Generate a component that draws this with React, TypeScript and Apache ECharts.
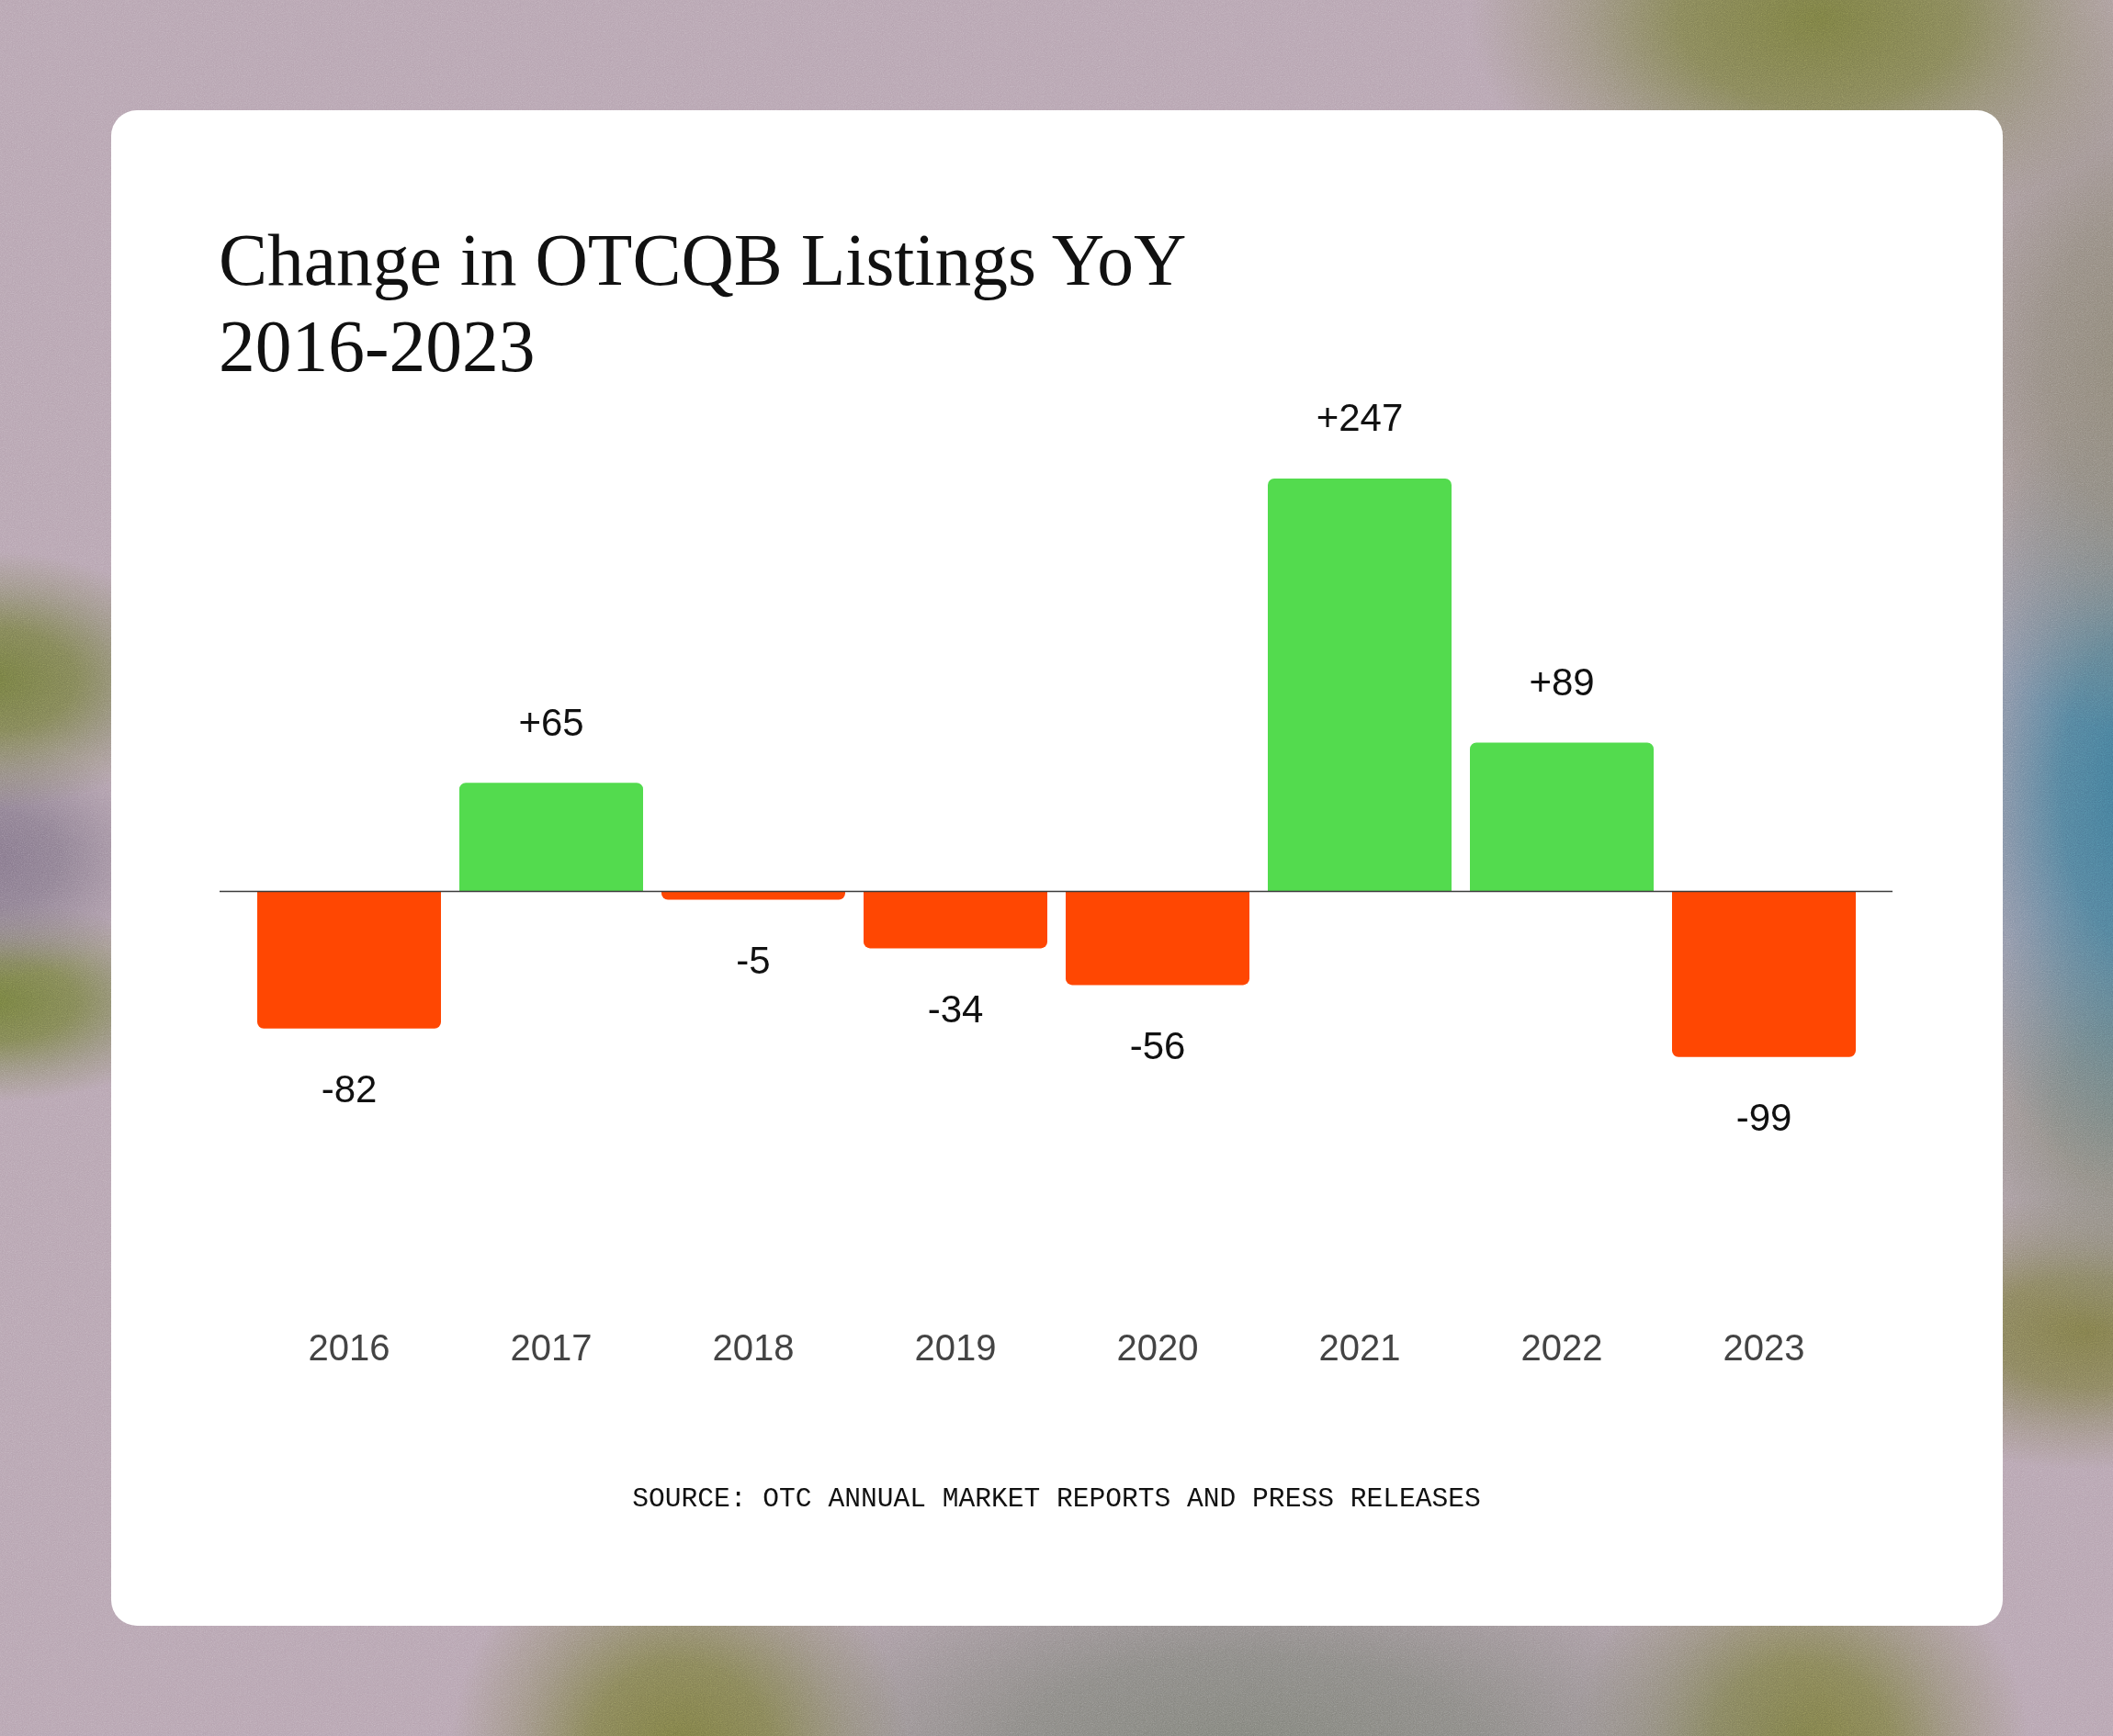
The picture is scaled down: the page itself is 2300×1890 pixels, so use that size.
import React, { useEffect, useRef } from "react";
import * as echarts from "echarts";

// ---- data ----
const years: string[] = ["2016", "2017", "2018", "2019", "2020", "2021", "2022", "2023"];
const changes: number[] = [-82, 65, -5, -34, -56, 247, 89, -99];
const titleLines: string[] = ["Change in OTCQB Listings YoY", "2016-2023"];
const sourceText = "SOURCE: OTC ANNUAL MARKET REPORTS AND PRESS RELEASES";

const GREEN = "#53DB4E";
const RED = "#FF4702";
const W = 2300;
const H = 1890;

const noise =
  "url(\"data:image/svg+xml;utf8,<svg xmlns='http://www.w3.org/2000/svg' width='256' height='256'><filter id='n'><feTurbulence type='fractalNoise' baseFrequency='0.9' numOctaves='2' stitchTiles='stitch'/><feColorMatrix type='saturate' values='0'/></filter><rect width='100%' height='100%' filter='url(%23n)'/></svg>\")";

function blob(rx: number, ry: number, x: number, y: number, rgb: string, a = 1) {
  return `radial-gradient(ellipse ${rx}px ${ry}px at ${x}px ${y}px, rgba(${rgb},${a}) 0%, rgba(${rgb},${a * 0.8}) 40%, rgba(${rgb},${a * 0.3}) 75%, rgba(${rgb},0) 100%)`;
}

const bgLayers = [
  blob(380, 240, 1980, 20, "120,123,66"),
  blob(260, 400, 2330, 400, "140,133,118"),
  blob(240, 440, 2340, 860, "58,119,150"),
  blob(230, 240, 2330, 1210, "134,134,121"),
  blob(260, 150, 2270, 1450, "126,122,74"),
  blob(230, 140, -10, 740, "114,122,64"),
  blob(190, 130, -10, 935, "132,118,138"),
  blob(230, 110, -10, 1090, "114,124,62"),
  blob(250, 250, 740, 1910, "122,122,66"),
  blob(640, 270, 1360, 1910, "127,129,121"),
  blob(250, 250, 1960, 1910, "122,122,66"),
].join(",");

export default function App() {
  const ref = useRef<HTMLDivElement>(null);

  useEffect(() => {
    if (!ref.current) return;
    const chart = echarts.init(ref.current, undefined, { renderer: "svg", width: W, height: H });
    const option: any = {
      animation: false,
      backgroundColor: "transparent",
      title: {
        text: titleLines.join("\n"),
        left: 233,
        top: 231,
        textStyle: {
          fontFamily: "Liberation Serif",
          fontSize: 79.5,
          fontWeight: "normal",
          lineHeight: 94,
          color: "#111111",
        },
      },
      grid: { left: 270, right: 270, top: 424.5, bottom: 464.5, containLabel: false },
      xAxis: {
        type: "category",
        data: years,
        position: "bottom",
        axisLine: { show: false, onZero: false },
        axisTick: { show: false },
        axisLabel: {
          margin: 21,
          fontFamily: "Liberation Sans",
          fontSize: 40,
          color: "#444444",
        },
        splitLine: { show: false },
      },
      yAxis: {
        type: "value",
        min: -250,
        max: 300,
        show: false,
      },
      series: [
        {
          type: "bar",
          barWidth: 200,
          data: changes.map((v) => ({
            value: v,
            itemStyle: {
              color: v >= 0 ? GREEN : RED,
              borderRadius: v >= 0 ? [7, 7, 0, 0] : [0, 0, 7, 7],
            },
            label: { position: v >= 0 ? "top" : "bottom" },
          })),
          label: {
            show: true,
            distance: 45,
            fontFamily: "Liberation Sans",
            fontSize: 42,
            color: "#111111",
            formatter: (p: any) => (p.value > 0 ? "+" + p.value : String(p.value)),
          },
        },
      ],
    };
    chart.setOption(option);
    const zeroY = chart.convertToPixel({ yAxisIndex: 0 }, 0) as number;
    chart.setOption({
      graphic: [
        {
          type: "line",
          z: 100,
          shape: { x1: 239, y1: zeroY, x2: 2060, y2: zeroY },
          style: { stroke: "#3c3c3c", lineWidth: 1.6 },
        },
        {
          type: "text",
          x: 1150,
          y: 1632,
          style: {
            text: sourceText,
            fontFamily: "Liberation Mono",
            fontSize: 29.6,
            fill: "#111111",
            textAlign: "center",
            textVerticalAlign: "middle",
          },
        },
      ],
    });
    return () => chart.dispose();
  }, []);

  return (
    <div
      style={{
        position: "absolute",
        left: 0,
        top: 0,
        width: W,
        height: H,
        overflow: "hidden",
        backgroundColor: "#b6a3b0",
        backgroundImage: bgLayers,
      }}
    >
      <div
        style={{
          position: "absolute",
          inset: 0,
          backgroundImage: noise,
          opacity: 0.4,
          mixBlendMode: "overlay",
        }}
      />
      <div
        style={{
          position: "absolute",
          left: 121,
          top: 120,
          width: 2059,
          height: 1650,
          background: "#ffffff",
          borderRadius: 28,
        }}
      />
      <div ref={ref} style={{ position: "absolute", left: 0, top: 0, width: W, height: H }} />
    </div>
  );
}
